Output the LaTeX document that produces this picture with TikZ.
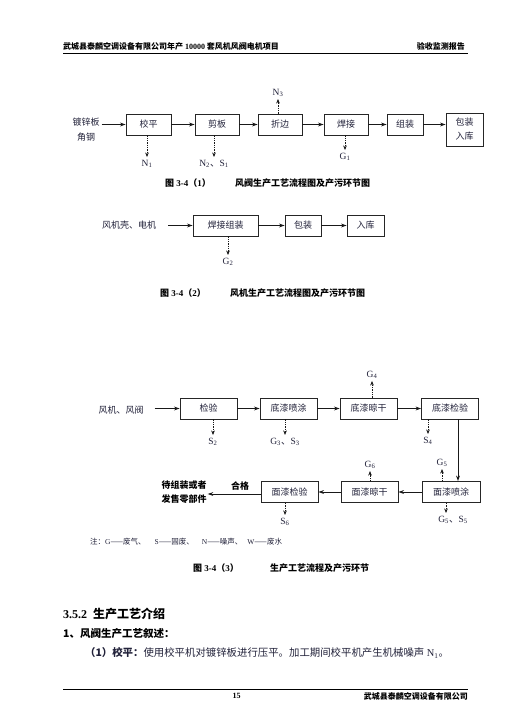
\documentclass[tikz,border=0pt]{standalone}
\usepackage{fontspec}
\setmainfont{Liberation Serif}
\newfontfamily\cjk{Noto Sans CJK SC}
\usetikzlibrary{arrows.meta}
\definecolor{ink}{HTML}{22223A}
\begin{document}
\begin{tikzpicture}[x=1pt,y=-1pt,
  box/.style={draw=black!85, line width=0.8pt, inner sep=0pt, text=ink,
    font=\cjk\fontsize{9}{12}\selectfont, align=center, minimum height=21pt},
  flow/.style={line width=1pt, draw=black!90, -{Stealth[length=5.5pt,width=3.8pt]}},
  emit/.style={line width=0.6pt, draw=black!90, dash pattern=on 1.3pt off 1pt,
    -{Stealth[length=4.5pt,width=3.6pt]}, shorten >=2pt},
  emitup/.style={line width=0.6pt, draw=black!90, dash pattern=on 1.3pt off 1pt,
    -{Stealth[length=4.5pt,width=3.6pt]}, shorten >=1pt},
  lbl/.style={font=\fontsize{9.5}{11}\selectfont, text=ink, inner sep=1pt},
  src/.style={font=\cjk\fontsize{9}{15}\selectfont, text=ink, align=center, inner sep=2pt},
  captxt/.style={font=\cjk\bfseries\fontsize{9}{11}\selectfont, anchor=west, inner sep=0pt},
  hdr/.style={font=\cjk\bfseries\fontsize{8}{10}\selectfont, inner sep=0pt}
]
\useasboundingbox[fill=white] (0,0) rectangle (519,717);

% ---------- header ----------
\node[hdr, anchor=west] (hl) at (63,46) {武城县泰麟空调设备有限公司年产 {\rmfamily 10000} 套风机风阀电机项目};
\node[hdr, anchor=east] (hr) at (465,46) {验收监测报告};
\coordinate (hrA) at (63,54);
\coordinate (hrB) at (468,54);
\draw[line width=1pt] (hrA) -- (hrB);

% ---------- figure 3-4 (1) ----------
\node[src] (s1) at (86,130) {镀锌板\\角钢};
\node[box, minimum width=45pt] (a1) at (148.5,124.5) {校平};
\node[box, minimum width=44pt] (a2) at (217,124.5) {剪板};
\node[box, minimum width=44pt] (a3) at (280,124.5) {折边};
\node[box, minimum width=44pt] (a4) at (346,124.5) {焊接};
\node[box, minimum width=36pt] (a5) at (405,124.5) {组装};
\node[box, minimum width=37pt, minimum height=33pt, font=\cjk\fontsize{9}{14}\selectfont] (a6) at (464.5,129.5) {包装\\入库};
\draw[flow] (s1.east |- a1) -- (a1.west);
\draw[flow] (a1) -- (a2);
\draw[flow] (a2) -- (a3);
\draw[flow] (a3) -- (a4);
\draw[flow] (a4) -- (a5);
\draw[flow] (a5.east) -- (a5.east -| a6.west);

\node[lbl] (n1) at (147,164) {N\textsubscript{1}};
\node[lbl] (n2) at (214,164) {N\textsubscript{2}{\cjk 、}S\textsubscript{1}};
\node[lbl] (n3) at (278,93) {N\textsubscript{3}};
\node[lbl] (g1) at (345,157) {G\textsubscript{1}};
\draw[emit] (a1.south -| n1) -- (n1.north);
\draw[emit] (a2.south -| n2) -- (n2.north);
\draw[emitup] (a3.north -| n3) -- (n3.south);
\draw[emit] (a4.south -| g1) -- (g1.north);

\node[captxt] (c1a) at (165,183) {图 {\rmfamily 3-4}（{\rmfamily 1}）};
\node[captxt] (c1b) at (235,183) {风阀生产工艺流程图及产污环节图};

% ---------- figure 3-4 (2) ----------
\node[src] (s2) at (129,225) {风机壳、电机};
\node[box, minimum width=65pt] (b1) at (225.5,225.5) {焊接组装};
\node[box, minimum width=36pt] (b2) at (303,225.5) {包装};
\node[box, minimum width=37pt] (b3) at (365.5,225.5) {入库};
\draw[flow, shorten <=10pt] (s2.east |- b1) -- (b1.west);
\draw[flow] (b1) -- (b2);
\draw[flow] (b2) -- (b3);
\node[lbl] (g2) at (228,262) {G\textsubscript{2}};
\draw[emit] (b1.south -| g2) -- (g2.north);

\node[captxt] (c2a) at (160,293) {图 {\rmfamily 3-4}（{\rmfamily 2}）};
\node[captxt] (c2b) at (230,293) {风机生产工艺流程图及产污环节图};

% ---------- figure 3-4 (3) ----------
\node[src] (s3) at (121,410) {风机、风阀};
\node[box, minimum width=57pt] (d1) at (208.5,408.5) {检验};
\node[box, minimum width=57pt] (d2) at (288.5,408.5) {底漆喷涂};
\node[box, minimum width=57pt] (d3) at (368.5,408.5) {底漆晾干};
\node[box, minimum width=57pt] (d4) at (450,408.5) {底漆检验};
\node[box, minimum width=58pt] (e1) at (451,492) {面漆喷涂};
\node[box, minimum width=57pt] (e2) at (369.5,492) {面漆晾干};
\node[box, minimum width=57pt] (e3) at (289.5,492) {面漆检验};
\node[font=\cjk\bfseries\fontsize{9}{14}\selectfont, align=center, inner sep=1pt] (out) at (184,492) {待组装或者\\发售零部件};
\node[font=\cjk\bfseries\fontsize{9}{11}\selectfont, inner sep=0pt] (ok) at (240,486) {合格};

\draw[flow, shorten <=9pt] (s3.east |- d1) -- (d1.west);
\draw[flow] (d1) -- (d2);
\draw[flow] (d2) -- (d3);
\draw[flow] (d3) -- (d4);
\draw[flow] ([xshift=8pt]d4.south) -- ([xshift=7pt]e1.north);
\draw[flow] (e1) -- (e2);
\draw[flow] (e2) -- (e3);
\draw[flow] ([yshift=-2pt]e3.west) -- ([yshift=-2pt]out.east);

\node[lbl] (s2l) at (213,442) {S\textsubscript{2}};
\node[lbl] (g3) at (285,442) {G\textsubscript{3}{\cjk 、}S\textsubscript{3}};
\node[lbl] (g4) at (372,375) {G\textsubscript{4}};
\node[lbl] (s4l) at (428,441) {S\textsubscript{4}};
\node[lbl] (g5) at (442,463) {G\textsubscript{5}};
\node[lbl] (g5s) at (453,520) {G\textsubscript{5}{\cjk 、}S\textsubscript{5}};
\node[lbl] (g6) at (370,465) {G\textsubscript{6}};
\node[lbl] (s6l) at (285,522) {S\textsubscript{6}};
\draw[emit] (d1.south -| s2l) -- (s2l.north);
\draw[emit] (d2.south -| g3) -- (g3.north);
\draw[emitup] (d3.north -| g4) -- (g4.south);
\draw[emit] (d4.south -| s4l) -- (s4l.north);
\draw[emitup] (e1.north -| g5) -- (g5.south);
\draw[emit] ([xshift=-5pt]e1.south) -- ([xshift=-7pt]g5s.north);
\draw[emitup] (e2.north -| g6) -- (g6.south);
\draw[emit] (e3.south -| s6l) -- (s6l.north);

\node[anchor=west, inner sep=0pt, text=ink, font=\fontsize{7.5}{9}\selectfont] (note) at (90,542)
  {{\cjk 注：}G{\cjk ——废气、}\hspace{9pt}S{\cjk ——固废、}\hspace{8pt}N{\cjk ——噪声、}\hspace{5pt}W{\cjk ——废水}};

\node[captxt] (c3a) at (193,568) {图 {\rmfamily 3-4}（{\rmfamily 3}）};
\node[captxt] (c3b) at (270,568) {生产工艺流程及产污环节};

% ---------- text ----------
\node[anchor=west, inner sep=0pt, font=\bfseries\fontsize{12}{14}\selectfont] (h352) at (63,614) {3.5.2\hspace{6pt}{\cjk 生产工艺介绍}};
\node[anchor=west, inner sep=0pt, font=\cjk\bfseries\fontsize{10.5}{13}\selectfont] (h1) at (63,634) {1、风阀生产工艺叙述：};
\node[anchor=west, inner sep=0pt, text=ink, font=\fontsize{10.4}{13}\selectfont] (p1) at (85,653)
  {{\cjk\bfseries （1）校平：}{\cjk 使用校平机对镀锌板进行压平。加工期间校平机产生机械噪声} N\textsubscript{1}{\cjk 。}};

% ---------- footer ----------
\coordinate (frA) at (63,689);
\coordinate (frB) at (468,689);
\draw[line width=0.9pt] (frA) -- (frB);
\node[font=\bfseries\fontsize{8}{10}\selectfont, inner sep=0pt] (pg) at (236.5,696) {15};
\node[hdr, anchor=east] (fr) at (468,696) {武城县泰麟空调设备有限公司};
\end{tikzpicture}
\end{document}
